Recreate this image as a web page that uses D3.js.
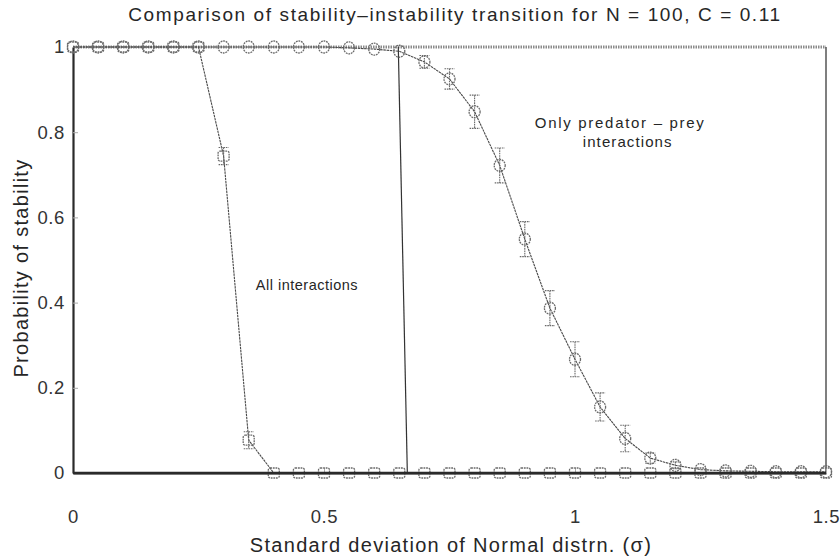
<!DOCTYPE html>
<html>
<head>
<meta charset="utf-8">
<script src="https://cdn.jsdelivr.net/npm/d3@7/dist/d3.min.js"></script>
<style>
  html, body { margin: 0; padding: 0; background: #fff; }
  svg { display: block; font-family: "Liberation Sans", Arial, sans-serif; }
</style>
</head>
<body>
<svg id="chart" width="840" height="558"></svg>
<script>
// Standard deviation sigma of the interaction strengths
const sigma = [0, 0.05, 0.1, 0.15, 0.2, 0.25, 0.3, 0.35, 0.4, 0.45, 0.5, 0.55, 0.6, 0.65,
  0.7, 0.75, 0.8, 0.85, 0.9, 0.95, 1.0, 1.05, 1.1, 1.15, 1.2, 1.25, 1.3, 1.35, 1.4, 1.45, 1.5];

// Probability of stability with all interaction types
const allInteractions = [1, 1, 1, 1, 1, 1, 0.744, 0.077, 0, 0, 0, 0, 0, 0,
  0, 0, 0, 0, 0, 0, 0, 0, 0, 0, 0, 0, 0, 0, 0, 0, 0];
const allErr = [0, 0, 0, 0, 0, 0, 0.02, 0.02, 0, 0, 0, 0, 0, 0,
  0, 0, 0, 0, 0, 0, 0, 0, 0, 0, 0, 0, 0, 0, 0, 0, 0];

// Probability of stability with predator-prey interactions only
const predatorPrey = [1, 1, 1, 1, 1, 1, 1, 1, 1, 1, 1, 0.998, 0.995, 0.99,
  0.965, 0.925, 0.848, 0.722, 0.549, 0.387, 0.267, 0.155, 0.081, 0.035, 0.018, 0.008, 0.005, 0.004, 0.003, 0.003, 0.003];
const predatorPreyErr = [0, 0, 0, 0, 0, 0, 0, 0, 0, 0, 0, 0, 0, 0,
  0.015, 0.024, 0.039, 0.041, 0.041, 0.041, 0.041, 0.033, 0.031, 0.012, 0.008, 0, 0, 0, 0, 0, 0];

// Near-vertical reference line at the predator-prey threshold
const thresholdX = [0.648, 0.657, 0.666];
const thresholdY = [1, 0.5, 0];

const xTicks = [0, 0.5, 1, 1.5];
const yTicks = [0, 0.2, 0.4, 0.6, 0.8, 1];

const titleText = "Comparison of stability\u2013instability transition for N = 100, C = 0.11";
const xLabel = "Standard deviation of Normal distrn. (\u03c3)";
const yLabel = "Probability of stability";

const svg = d3.select("#chart");
const margin = { left: 73, right: 14, top: 47, bottom: 85 };
const W = 840, H = 558;

const x = d3.scaleLinear().domain([0, 1.5]).range([margin.left, W - margin.right]);
const y = d3.scaleLinear().domain([0, 1]).range([H - margin.bottom, margin.top]);

const ink = "#2a2a2a";
const soft = "#6a6a6a";
const textCol = "#262626";

// frame: top edge is light, the others darker
svg.append("line").attr("x1", x(0)).attr("x2", x(1.5)).attr("y1", y(1)).attr("y2", y(1))
  .attr("stroke", "#8a8a8a").attr("stroke-width", 3).attr("stroke-dasharray", "1.5,1");
svg.append("line").attr("x1", x(1.5)).attr("x2", x(1.5)).attr("y1", y(1)).attr("y2", y(0))
  .attr("stroke", "#555").attr("stroke-width", 1.5);

// axes with inward ticks
const xAxis = svg.append("g").attr("transform", `translate(0,${y(0)})`)
  .call(d3.axisBottom(x).tickValues(xTicks).tickFormat(d => d3.format("")(d))
    .tickSizeInner(-5).tickSizeOuter(0).tickPadding(37));
const yAxis = svg.append("g").attr("transform", `translate(${x(0)},0)`)
  .call(d3.axisLeft(y).tickValues(yTicks).tickFormat(d => d3.format("")(d))
    .tickSizeInner(-5).tickSizeOuter(0).tickPadding(8));

[xAxis, yAxis].forEach(g => {
  g.select(".domain").attr("stroke", ink).attr("stroke-width", 2.2);
  g.selectAll(".tick line").attr("stroke", "#aaa").attr("stroke-width", 1);
  g.selectAll(".tick text").attr("fill", "#333").attr("font-size", 18.5)
    .attr("letter-spacing", 0.6)
    .attr("font-family", "'Liberation Sans', Arial, sans-serif");
});

const line = d3.line().x(d => x(d[0])).y(d => y(d[1]));

// reference line
svg.append("path")
  .datum(thresholdX.map((v, i) => [v, thresholdY[i]]))
  .attr("d", line).attr("fill", "none").attr("stroke", "#333").attr("stroke-width", 1.2);

function drawSeries(vals, errs, shape) {
  const pts = sigma.map((s, i) => [s, vals[i], errs[i]]);
  svg.append("path").datum(pts).attr("d", line)
    .attr("fill", "none").attr("stroke", "#4a4a4a").attr("stroke-width", 1.1)
    .attr("stroke-dasharray", "2.5,0.7");

  const eb = svg.append("g").attr("stroke", soft).attr("stroke-width", 1.1)
    .attr("stroke-dasharray", "1.6,0.8");
  pts.filter(p => p[2] > 0).forEach(p => {
    const cx = x(p[0]), y1 = y(p[1] + p[2]), y2 = y(p[1] - p[2]);
    eb.append("line").attr("x1", cx).attr("x2", cx).attr("y1", y1).attr("y2", y2);
    eb.append("line").attr("x1", cx - 5).attr("x2", cx + 5).attr("y1", y1).attr("y2", y1);
    eb.append("line").attr("x1", cx - 5).attr("x2", cx + 5).attr("y1", y2).attr("y2", y2);
  });

  const mk = svg.append("g").attr("fill", "none").attr("stroke", soft)
    .attr("stroke-width", 1.3).attr("stroke-dasharray", "1.8,0.8");
  pts.forEach(p => {
    if (shape === "circle") {
      mk.append("ellipse").attr("cx", x(p[0])).attr("cy", y(p[1])).attr("rx", 5.5).attr("ry", 6);
    } else {
      mk.append("rect").attr("x", x(p[0]) - 5.5).attr("y", y(p[1]) - 5)
        .attr("width", 11).attr("height", 10).attr("rx", 2);
    }
  });
}

drawSeries(predatorPrey, predatorPreyErr, "circle");
drawSeries(allInteractions, allErr, "square");

// redraw baseline on top so it stays heavy
svg.append("line").attr("x1", x(0)).attr("x2", x(1.5)).attr("y1", y(0)).attr("y2", y(0))
  .attr("stroke", ink).attr("stroke-width", 2.4);

// annotations
const note = (tx, ty, s, size, ls) => svg.append("text").attr("x", tx).attr("y", ty)
  .attr("text-anchor", "middle").attr("font-size", size).attr("letter-spacing", ls)
  .attr("fill", textCol).text(s);
note(x(0.466), y(0.43), "All interactions", 14.5, 0.5);
note(x(1.09), y(0.81), "Only predator \u2013 prey", 15, 1.7);
note(x(1.105), y(0.765), "interactions", 15, 1.1);

// titles
svg.append("text").attr("x", 455).attr("y", 21).attr("text-anchor", "middle")
  .attr("font-size", 19).attr("letter-spacing", 1.6).attr("fill", textCol).text(titleText);
svg.append("text").attr("x", 451).attr("y", 552).attr("text-anchor", "middle")
  .attr("font-size", 20).attr("letter-spacing", 1.3).attr("fill", textCol).text(xLabel);
svg.append("text").attr("transform", `translate(28,268) rotate(-90)`)
  .attr("text-anchor", "middle").attr("font-size", 20).attr("letter-spacing", 1.3)
  .attr("fill", textCol).text(yLabel);
</script>
</body>
</html>
